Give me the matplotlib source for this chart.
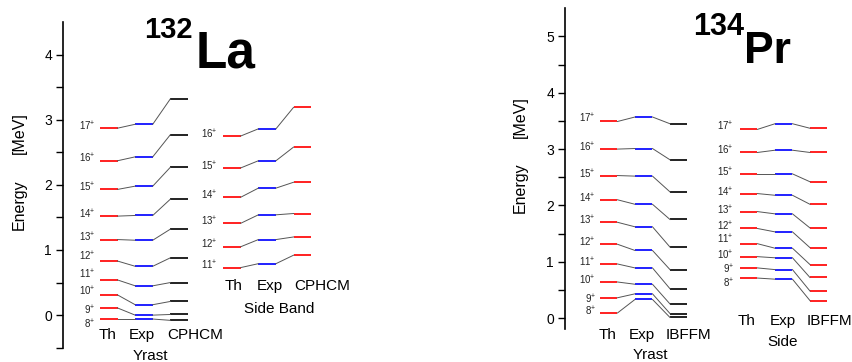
import matplotlib
matplotlib.use("Agg")
import matplotlib.pyplot as plt

plt.rcParams['font.family'] = ['Liberation Sans', 'DejaVu Sans']
plt.rcParams['mathtext.fontset'] = 'custom'
plt.rcParams['mathtext.rm'] = 'Liberation Sans'
plt.rcParams['mathtext.default'] = 'regular'

# ---------------- data ----------------
spins_yrast = [8, 9, 10, 11, 12, 13, 14, 15, 16, 17]
la_yrast_th = [-0.06, 0.11, 0.31, 0.54, 0.83, 1.16, 1.52, 1.93, 2.37, 2.87]
la_yrast_exp = [-0.06, 0.00, 0.16, 0.45, 0.75, 1.15, 1.53, 1.98, 2.43, 2.93]
la_yrast_cphcm = [-0.08, 0.01, 0.21, 0.50, 0.88, 1.32, 1.78, 2.27, 2.77, 3.32]

spins_la_side = [11, 12, 13, 14, 15, 16]
la_side_th = [0.73, 1.05, 1.41, 1.81, 2.26, 2.75]
la_side_exp = [0.79, 1.16, 1.54, 1.95, 2.37, 2.86]
la_side_cphcm = [0.92, 1.20, 1.56, 2.04, 2.58, 3.19]

pr_yrast_th = [0.09, 0.36, 0.64, 0.96, 1.31, 1.70, 2.10, 2.53, 3.00, 3.49]
pr_yrast_exp = [0.33, 0.43, 0.60, 0.89, 1.20, 1.62, 2.02, 2.52, 3.01, 3.57]
pr_yrast_ibffm = [0.01, 0.08, 0.25, 0.52, 0.86, 1.26, 1.75, 2.24, 2.81, 3.45]

spins_pr_side = [8, 9, 10, 11, 12, 13, 14, 15, 16, 17]
pr_side_th = [0.71, 0.89, 1.09, 1.32, 1.59, 1.89, 2.21, 2.56, 2.94, 3.35]
pr_side_exp = [0.69, 0.86, 1.07, 1.24, 1.53, 1.85, 2.18, 2.56, 2.98, 3.45]
pr_side_ibffm = [0.31, 0.48, 0.72, 0.95, 1.25, 1.60, 2.02, 2.42, 2.94, 3.37]

# ---------------- layout ----------------
W, H = 853, 362
fig = plt.figure(figsize=(W / 100, H / 100), dpi=100)


def px(x, y):
    return x / W, 1 - y / H


RED = '#ff2020'
BLUE = '#2020ff'
BLACK = '#222222'
CONN = '#555555'


def draw_band(ax, x0, spins, cols, colors, lab_x, nudge):
    # cols: list of 3 level lists at x0, x0+2, x0+4
    for j, (vals, c) in enumerate(zip(cols, colors)):
        xs = x0 + 2 * j
        for v in vals:
            ax.plot([xs, xs + 1], [v, v], color=c, lw=1.4, solid_capstyle='butt')
    for j in range(2):
        xa = x0 + 2 * j + 1
        for va_, vb_ in zip(cols[j], cols[j + 1]):
            ax.plot([xa, xa + 1], [va_, vb_], color=CONN, lw=0.7)
    for s, v in zip(spins, cols[0]):
        ax.text(lab_x, v + 0.03 + nudge.get(s, 0), f"{s}$^{{+}}$", ha='right',
                va='center', fontsize=7, color='#222222')


def style_axes(ax, ymin, ymax, yticks):
    ax.set_ylim(ymin, ymax)
    for s in ['top', 'right', 'bottom']:
        ax.spines[s].set_visible(False)
    ax.set_xticks([])
    ax.set_yticks(yticks)
    ax.set_yticks([t + 0.5 for t in yticks if t + 0.5 < ymax] +
                  ([yticks[0] - 0.5] if yticks[0] - 0.5 >= ymin else []), minor=True)
    ax.tick_params(axis='y', which='major', direction='out', length=5, width=1,
                   labelsize=10, pad=3)
    ax.tick_params(axis='y', which='minor', direction='out', length=5, width=1)
    ax.spines['left'].set_linewidth(1.2)
    ax.patch.set_alpha(0)


# ----- left panel: 132La -----
axL = fig.add_axes([63 / W, 1 - 347.7 / H, 267 / W, 325.7 / H])
axL.set_xlim(-2.1, 13.07)
style_axes(axL, -0.5, 4.5, [0, 1, 2, 3, 4])
draw_band(axL, 0, spins_yrast, [la_yrast_th, la_yrast_exp, la_yrast_cphcm],
          [RED, BLUE, BLACK], -0.25,
          {12: 0.04, 11: 0.05, 10: 0.02, 9: -0.06, 8: -0.11})
draw_band(axL, 7, spins_la_side, [la_side_th, la_side_exp, la_side_cphcm],
          [RED, BLUE, RED], 6.7, {})
for t, x in zip(['Th', 'Exp', 'CPHCM'], [0.45, 2.37, 5.43]):
    axL.text(x, -0.31, t, ha='center', va='center', fontsize=11, clip_on=False)
axL.text(2.84, -0.62, 'Yrast', ha='center', va='center', fontsize=11, clip_on=False)
for t, x in zip(['Th', 'Exp', 'CPHCM'], [7.57, 9.66, 12.63]):
    axL.text(x, 0.445, t, ha='center', va='center', fontsize=11, clip_on=False)
axL.text(10.17, 0.10, 'Side Band', ha='center', va='center', fontsize=11, clip_on=False)

# ----- right panel: 134Pr -----
axR = fig.add_axes([565 / W, 1 - 329.3 / H, 288 / W, 321 / H])
axR.set_xlim(-2.0, 14.46)
style_axes(axR, -0.2, 5.5, [0, 1, 2, 3, 4, 5])
draw_band(axR, 0, spins_yrast, [pr_yrast_th, pr_yrast_exp, pr_yrast_ibffm],
          [RED, BLUE, BLACK], -0.23, {17: 0.03, 9: -0.06})
draw_band(axR, 8, spins_pr_side, [pr_side_th, pr_side_exp, pr_side_ibffm],
          [RED, BLUE, RED], 7.66,
          {8: -0.13, 9: -0.05, 10: 0.0, 11: 0.04, 12: 0.01, 17: 0.02})
for t, x in zip(['Th', 'Exp', 'IBFFM'], [0.46, 2.4, 5.03]):
    axR.text(x, -0.30, t, ha='center', va='center', fontsize=11, clip_on=False)
axR.text(2.86, -0.66, 'Yrast', ha='center', va='center', fontsize=11, clip_on=False)
for t, x in zip(['Th', 'Exp', 'IBFFM'], [8.4, 10.46, 13.14]):
    axR.text(x, -0.05, t, ha='center', va='center', fontsize=11, clip_on=False)
axR.text(10.46, -0.43, 'Side', ha='center', va='center', fontsize=11, clip_on=False)

# ----- axis titles -----
for (x, ye, ym) in [(19, 205, 133), (520, 188, 117)]:
    fig.text(*px(x, ye), 'Energy', rotation=90, ha='center', va='center', fontsize=11.5)
    fig.text(*px(x, ym), '[MeV]', rotation=90, ha='center', va='center', fontsize=11.5)

# ----- nucleus labels -----
fig.text(*px(144, 38), '132', fontsize=21, fontweight='bold', ha='left', va='baseline')
fig.text(*px(196, 68), 'La', fontsize=37, fontweight='bold', ha='left', va='baseline')
fig.text(*px(693, 35), '134', fontsize=22, fontweight='bold', ha='left', va='baseline')
fig.text(*px(744, 63), 'Pr', fontsize=32, fontweight='bold', ha='left', va='baseline')

fig.savefig('out.png', dpi=100)
